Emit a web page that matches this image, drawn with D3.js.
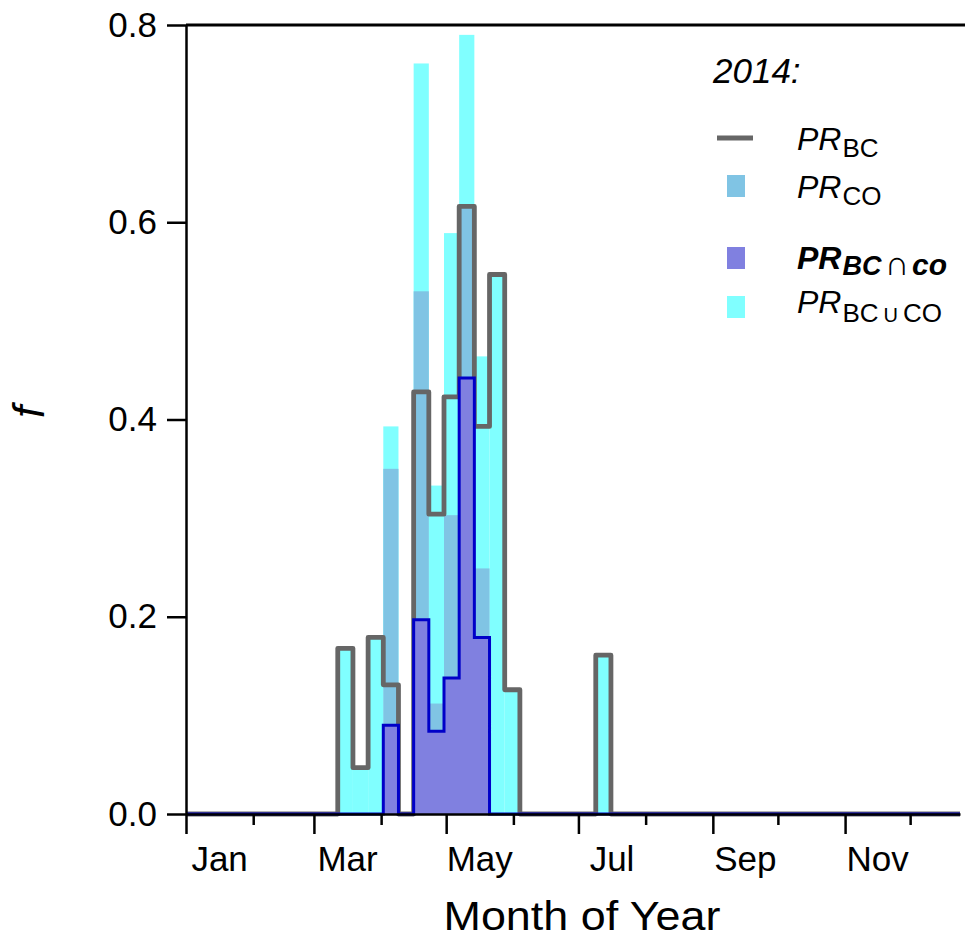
<!DOCTYPE html>
<html>
<head>
<meta charset="utf-8">
<script src="https://cdn.jsdelivr.net/npm/d3@7"></script>
<style>
  body { margin: 0; background: #fff; }
  svg { display: block; font-family: "Liberation Sans", Arial, sans-serif; }
</style>
</head>
<body>
<script>
'use strict';

// weekly bins counted from 1 Jan 2014, only the weeks that have data
const weeks = [10, 11, 12, 13, 14, 15, 16, 17, 18, 19, 20, 21, 27];
const prBC  = [0.168, 0.047, 0.179, 0.131, 0, 0.428, 0.304, 0.423, 0.616, 0.393, 0.547, 0.126, 0.161];
const prCO  = [0, 0, 0, 0.350, 0, 0.530, 0.112, 0.303, 0.616, 0.249, 0, 0, 0];
const prAnd = [0, 0, 0, 0.090, 0, 0.197, 0.084, 0.138, 0.442, 0.179, 0, 0, 0];
const prOr  = [0.168, 0.047, 0.179, 0.393, 0, 0.761, 0.333, 0.589, 0.790, 0.464, 0.547, 0.126, 0.161];
const nWeeks = 51;

const monthNames = ["Jan", "Feb", "Mar", "Apr", "May", "Jun", "Jul", "Aug", "Sep", "Oct", "Nov", "Dec"];
const yTicks = [0, 0.2, 0.4, 0.6, 0.8];

const width = 965, height = 940;

const svg = d3.select('body')
  .append('svg')
  .attr('width', width)
  .attr('height', height);

// scales
const weekDate = w => new Date(Date.UTC(2014, 0, 1 + 7 * w));
const x = d3.scaleUtc()
  .domain([weekDate(0), weekDate(nWeeks)])
  .range([186, 960]);
const y = d3.scaleLinear()
  .domain([0, 0.8])
  .range([814, 25]);

// full weekly series, zero where there is no value
function dense(values) {
  return d3.range(nWeeks + 1).map(w => {
    const i = weeks.indexOf(Math.min(w, nWeeks - 1));
    return { w: w, v: i >= 0 ? values[i] : 0 };
  });
}

function drawBars(values, color) {
  const rows = weeks.map((w, i) => ({ w: w, v: values[i] })).filter(d => d.v > 0);
  svg.append('g')
    .selectAll('rect')
    .data(rows)
    .enter()
    .append('rect')
    .attr('x', d => x(weekDate(d.w)))
    .attr('width', d => x(weekDate(d.w + 1)) - x(weekDate(d.w)))
    .attr('y', d => y(d.v))
    .attr('height', d => y(0) - y(d.v))
    .attr('fill', color);
}

const stepLine = d3.line()
  .x(d => x(weekDate(d.w)))
  .y(d => y(d.v))
  .curve(d3.curveStepAfter);

const stepArea = d3.area()
  .x(d => x(weekDate(d.w)))
  .y0(y(0))
  .y1(d => y(d.v))
  .curve(d3.curveStepAfter);

// union and CO as filled bars
drawBars(prOr, '#80ffff');
drawBars(prCO, '#80c4e4');

// BC as grey outline
svg.append('path')
  .datum(dense(prBC))
  .attr('d', stepLine)
  .attr('fill', 'none')
  .attr('stroke', '#666666')
  .attr('stroke-width', 4.8)
  .attr('stroke-linejoin', 'round');

// intersection: filled with a blue outline
svg.append('path')
  .datum(dense(prAnd))
  .attr('d', stepArea)
  .attr('fill', '#8080e0');
svg.append('path')
  .datum(dense(prAnd))
  .attr('d', stepLine)
  .attr('fill', 'none')
  .attr('stroke', '#0000c8')
  .attr('stroke-width', 3);

// axes
const monthStarts = d3.range(12).map(m => new Date(Date.UTC(2014, m, 1)));

const xAxis = svg.append('g')
  .attr('transform', 'translate(0,' + y(0) + ')')
  .call(d3.axisBottom(x).tickValues(monthStarts).tickSize(20).tickSizeOuter(0).tickFormat(''));
xAxis.selectAll('.tick line')
  .attr('y2', (d, i) => i % 2 === 0 ? 20 : 11)
  .attr('stroke-width', 2.5);
xAxis.select('.domain').attr('stroke-width', 2.5);

svg.append('g')
  .selectAll('text')
  .data(monthStarts.filter((d, i) => i % 2 === 0))
  .enter()
  .append('text')
  .attr('x', d => {
    const next = new Date(Date.UTC(2014, d.getUTCMonth() + 1, 1));
    return (x(d) + x(next)) / 2;
  })
  .attr('y', 871)
  .attr('text-anchor', 'middle')
  .style('font-size', '35px')
  .text(d => monthNames[d.getUTCMonth()]);

const yAxis = svg.append('g')
  .attr('transform', 'translate(186,0)')
  .call(d3.axisLeft(y).tickValues(yTicks).tickSize(19).tickSizeOuter(0).tickPadding(10).tickFormat(d3.format('.1f')));
yAxis.selectAll('.tick line').attr('stroke-width', 2.5);
yAxis.select('.domain').attr('stroke-width', 2.5);
yAxis.selectAll('.tick text')
  .style('font-size', '35px')
  .style('font-family', '"Liberation Sans", Arial, sans-serif')
  .attr('fill', '#000');

// top frame line
svg.append('line')
  .attr('x1', 186)
  .attr('x2', width)
  .attr('y1', y(0.8))
  .attr('y2', y(0.8))
  .attr('stroke', '#000')
  .attr('stroke-width', 3);

// axis titles
svg.append('text')
  .attr('x', 582)
  .attr('y', 930)
  .attr('text-anchor', 'middle')
  .attr('textLength', 277)
  .attr('lengthAdjust', 'spacingAndGlyphs')
  .style('font-size', '40px')
  .text('Month of Year');

svg.append('text')
  .attr('transform', 'translate(44,412)rotate(-90)')
  .attr('text-anchor', 'middle')
  .style('font-size', '44px')
  .style('font-style', 'italic')
  .text('f');

// legend
const legend = svg.append('g');
legend.append('text')
  .attr('x', 713)
  .attr('y', 83)
  .style('font-size', '35px')
  .style('font-style', 'italic')
  .text('2014:');

legend.append('line')
  .attr('x1', 717).attr('x2', 753)
  .attr('y1', 138).attr('y2', 138)
  .attr('stroke', '#666666')
  .attr('stroke-width', 5);

const swatches = [
  { y: 175, color: '#80c4e4' },
  { y: 247, color: '#8080e0' },
  { y: 296, color: '#80ffff' }
];
legend.selectAll('rect')
  .data(swatches)
  .enter()
  .append('rect')
  .attr('x', 727)
  .attr('y', d => d.y)
  .attr('width', 18)
  .attr('height', 22)
  .attr('fill', d => d.color);

function legendLabel(yBase, ySub, parts, bold) {
  const t = legend.append('text')
    .attr('x', 797)
    .attr('y', yBase)
    .style('font-weight', bold ? 'bold' : 'normal');
  t.append('tspan')
    .style('font-size', '32px')
    .style('font-style', 'italic')
    .text('PR');
  parts.forEach((p, i) => {
    const s = t.append('tspan')
      .style('font-size', p.size + 'px')
      .style('font-style', bold ? 'italic' : 'normal')
      .text(p.text);
    if (i === 0) s.attr('y', ySub);
    s.attr('dx', p.dx || 0);
  });
}

legendLabel(150, 157, [{ text: 'BC', size: 26, dx: 1 }], false);
legendLabel(198, 205, [{ text: 'CO', size: 26, dx: 1 }], false);
legendLabel(269, 275, [
  { text: 'BC', size: 27, dx: 1 },
  { text: '\u2229', size: 34, dx: 3 },
  { text: 'co', size: 30, dx: 3 }
], true);
legendLabel(313, 322, [
  { text: 'BC', size: 26, dx: 1 },
  { text: 'U', size: 20, dx: 5 },
  { text: 'CO', size: 26, dx: 5 }
], false);
</script>
</body>
</html>
